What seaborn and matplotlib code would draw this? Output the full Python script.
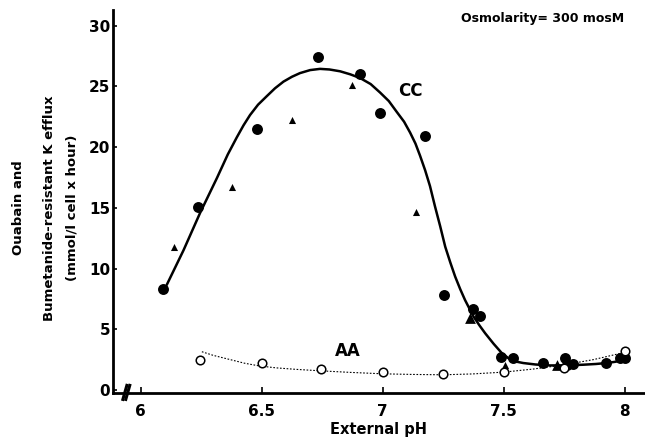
import matplotlib
matplotlib.use("Agg")
import matplotlib.pyplot as plt
import seaborn as sns
import pandas as pd

# ---- data ----
cc_circle_ph = [6.094, 6.239, 6.48, 6.734, 6.906, 6.989, 7.175, 7.254, 7.374, 7.40,
                7.488, 7.536, 7.663, 7.753, 7.76, 7.784, 7.922, 7.98, 8.0]
cc_circle_val = [8.3, 15.1, 21.5, 27.4, 26.05, 22.8, 20.9, 7.8, 6.7, 6.1,
                 2.75, 2.6, 2.2, 2.6, 2.06, 2.1, 2.2, 2.6, 2.6]

cc_tri_ph = [6.136, 6.377, 6.624, 6.872, 7.137, 7.505, 7.977]
cc_tri_val = [11.8, 16.7, 22.2, 25.1, 14.7, 2.06, 2.7]
cc_bigtri_ph = [7.36, 7.718]
cc_bigtri_val = [5.9, 2.06]

aa_ph = [6.246, 6.5, 6.745, 7.0, 7.25, 7.5, 7.75, 8.0]
aa_val = [2.47, 2.23, 1.73, 1.48, 1.32, 1.51, 1.79, 3.2]

cc_curve_ph = [6.108, 6.177, 6.246, 6.315, 6.36, 6.397, 6.425, 6.452, 6.485, 6.521,
               6.555, 6.59, 6.625, 6.658, 6.70,
               6.741, 6.78, 6.824, 6.866, 6.906, 6.95, 6.989, 7.025, 7.058, 7.088,
               7.113, 7.135, 7.154, 7.175, 7.195, 7.216, 7.237, 7.258, 7.279, 7.299,
               7.32, 7.34, 7.358, 7.375, 7.40, 7.423, 7.458, 7.492, 7.52, 7.547,
               7.58, 7.63, 7.691, 7.76, 7.828, 7.88, 7.925, 7.96, 7.993]
cc_curve_val = [8.66, 11.5, 14.6, 17.45, 19.4, 20.8, 21.8, 22.65, 23.5, 24.2,
                24.85, 25.4, 25.8, 26.1, 26.35,
                26.45, 26.4, 26.25, 26.0, 25.7, 25.2, 24.5, 23.8, 22.9, 22.1,
                21.2, 20.3, 19.3, 18.1, 16.8, 15.1, 13.5, 11.8, 10.5, 9.34,
                8.3, 7.4, 6.7, 6.04, 5.3, 4.67, 3.8, 3.03, 2.6, 2.35,
                2.22, 2.1, 2.02, 2.03, 2.08, 2.14, 2.22, 2.32, 2.47]

aa_curve_ph = [6.253, 6.30, 6.37, 6.43, 6.49, 6.56, 6.64, 6.74, 6.864, 7.0,
               7.12, 7.25, 7.37, 7.5, 7.62, 7.746, 7.87, 8.0]
aa_curve_val = [3.15, 2.85, 2.5, 2.2, 1.98, 1.82, 1.7, 1.58, 1.45, 1.33,
                1.28, 1.25, 1.32, 1.47, 1.72, 2.06, 2.5, 3.1]

x_ticks = [6, 6.5, 7, 7.5, 8]
x_tick_labels = ["6", "6.5", "7", "7.5", "8"]
y_ticks = [0, 5, 10, 15, 20, 25, 30]
y_tick_labels = ["0", "5", "10", "15", "20", "25", "30"]

ylabel_lines = ["Ouabain and", "Bumetanide-resistant K efflux", "(mmol/l cell x hour)"]

# ---- figure ----
sns.set_style("ticks")
plt.rcParams['font.family'] = ['DejaVu Sans']
plt.rcParams['font.weight'] = 'bold'
for key in ("text.color", "axes.labelcolor", "xtick.color", "ytick.color",
            "axes.edgecolor"):
    plt.rcParams[key] = "black"

fig = plt.figure(figsize=(6.45, 4.4), dpi=100)
ax = fig.add_axes([113 / 645, 1 - 393 / 440, 532 / 645, 383 / 440])

df_cc = pd.DataFrame({"ph": cc_curve_ph, "val": cc_curve_val})
df_aa = pd.DataFrame({"ph": aa_curve_ph, "val": aa_curve_val})
sns.lineplot(data=df_cc, x="ph", y="val", ax=ax, color="black", lw=1.8,
             sort=False, zorder=2)
sns.lineplot(data=df_aa, x="ph", y="val", ax=ax, color="black", lw=0.8,
             linestyle=(0, (1.5, 1.5)), sort=False, zorder=2)

sns.scatterplot(x=cc_circle_ph, y=cc_circle_val, ax=ax, color="black",
                marker="o", s=62, edgecolor="black", linewidth=0, zorder=3)
sns.scatterplot(x=cc_tri_ph, y=cc_tri_val, ax=ax, color="black",
                marker="^", s=26, edgecolor="black", linewidth=0, zorder=3)
sns.scatterplot(x=cc_bigtri_ph, y=cc_bigtri_val, ax=ax, color="black",
                marker="^", s=60, edgecolor="black", linewidth=0, zorder=3)
sns.scatterplot(x=aa_ph, y=aa_val, ax=ax, facecolor="white",
                marker="o", s=38, edgecolor="black", linewidth=1.1, zorder=4)

ax.set_xlim(5.886, 8.083)
ax.set_ylim(-0.25, 31.3)
ax.set_xticks(x_ticks)
ax.set_xticklabels(x_tick_labels, fontsize=11, fontweight="bold")
ax.set_yticks(y_ticks)
ax.set_yticklabels(y_tick_labels, fontsize=11, fontweight="bold")
ax.tick_params(axis="x", direction="in", length=4, width=1.2, pad=8)
ax.tick_params(axis="y", direction="in", length=3, width=1.2, pad=2)

sns.despine(ax=ax)
ax.spines["left"].set_linewidth(2.0)
ax.spines["bottom"].set_linewidth(2.0)

ax.set_xlabel("External pH", fontsize=10.5, fontweight="bold", labelpad=2)
ax.set_ylabel("")
for xpix, line in zip([19, 50, 72], ylabel_lines):
    fig.text(xpix / 645, 1 - 208 / 440, line, rotation=90, ha="center",
             va="center", fontsize=9.5, fontweight="bold")

ax.text(7.113, 24.6, "CC", fontsize=12, fontweight="bold", ha="center", va="center")
ax.text(6.857, 3.2, "AA", fontsize=12, fontweight="bold", ha="center", va="center")
ax.text(7.662, 30.6, "Osmolarity= 300 mosM", fontsize=9, fontweight="bold",
        ha="center", va="center")

# axis break mark
for dx in (0.0, 0.012):
    ax.plot([5.925 + dx, 5.945 + dx], [-0.9, 0.5], color="black", lw=2.2,
            clip_on=False, solid_capstyle="butt")

ax.set_facecolor("white")
fig.patch.set_facecolor("white")
fig.savefig("out.png", dpi=100, facecolor="white")
